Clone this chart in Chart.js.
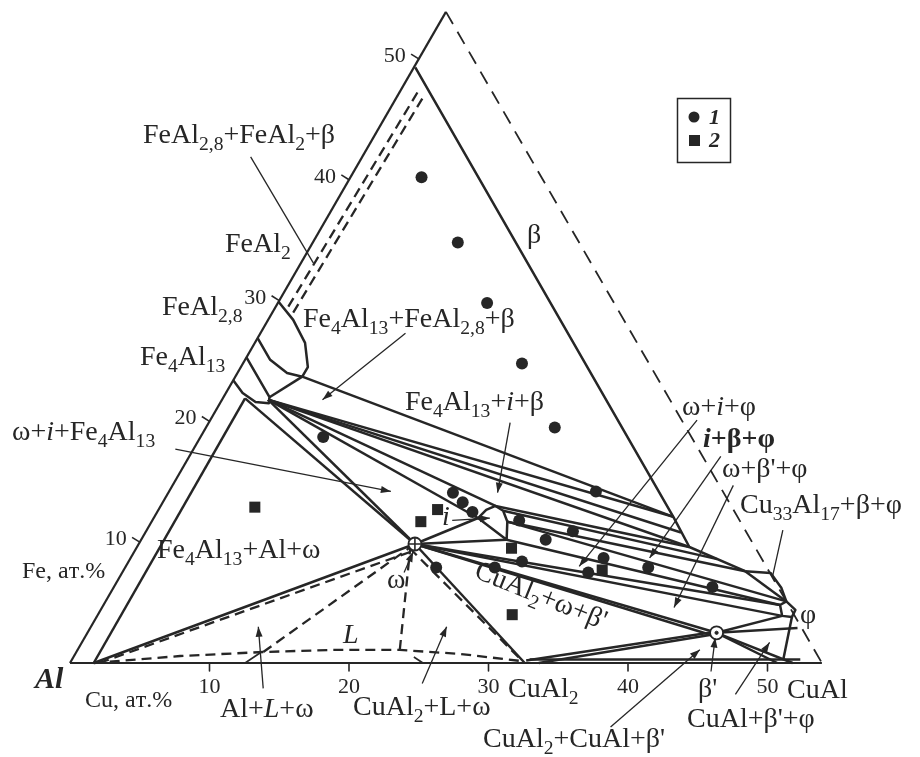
<!DOCTYPE html>
<html>
<head>
<meta charset="utf-8">
<script src="https://cdn.jsdelivr.net/npm/chart.js@4.4.1/dist/chart.umd.min.js"></script>
<style>
  html, body { margin: 0; padding: 0; background: #fff; }
  canvas { display: block; }
</style>
</head>
<body>
<canvas id="diagram" width="920" height="757"></canvas>
<script>
// every point is [Cu, Fe] in at.%, Al is the balance
const SIDE = 53.9;
const edgeTicks = [10, 20, 30, 40, 50];

// alloys studied
const seriesOne = [
  [5.1, 40.2], [10.4, 34.8], [15.0, 29.8], [20.0, 24.8], [25.0, 19.5], [30.6, 14.2],
  [8.8, 18.7], [20.4, 14.1], [21.5, 13.3], [22.6, 12.5], [26.3, 11.8], [30.6, 10.9],
  [29.0, 10.2], [28.2, 8.4], [26.5, 7.9], [22.3, 7.9], [33.9, 8.7], [33.4, 7.5],
  [37.5, 7.9], [42.9, 6.3]
];
const seriesTwo = [
  [6.8, 12.9], [20.0, 12.7], [19.3, 11.7], [26.9, 9.5], [34.3, 7.7], [29.7, 4.0]
];
// omega and beta' single-phase points
const singlePhases = [[19.8, 9.85], [45.1, 2.5]];

const frame = [
  [[0, 0], [SIDE, 0]],
  [[0, 0], [0, SIDE]]
];
const frameDashed = [
  [[0, SIDE], [SIDE, 0]]
];

const boundaries = [
  // beta
  [[0.1, 49.3], [37.2, 12.1], [39.6, 9.6], [44.6, 7.6]],
  // Al solid solution side
  [[1.7, 0], [1.6, 21.9]],
  // Fe4Al13
  [[0, 25.3], [3.3, 22.0], [3.5, 21.5], [2.5, 21.6], [1.2, 22.35], [0, 23.4]],
  // FeAl2.8
  [[0, 26.9], [1.8, 25.1], [3.56, 24.0], [4.8, 23.7]],
  [[0, 29.9], [1.8, 28.4], [3.6, 26.5], [4.8, 24.5], [4.8, 23.7]],
  [[4.8, 23.7], [3.3, 22.0]],
  // Fe4Al13 / FeAl2.8 / beta / i
  [[4.8, 23.7], [37.2, 12.1]],
  [[3.3, 21.8], [37.2, 12.1]],
  [[3.3, 21.8], [38.4, 10.8]],
  [[3.3, 21.8], [39.6, 9.6]],
  [[3.3, 21.8], [24.0, 13.0]],
  [[3.3, 21.8], [23.25, 12.0]],
  // i phase
  [[23.25, 12.0], [23.5, 12.67], [24.0, 13.0], [24.75, 12.6], [25.5, 11.7], [26.2, 10.2], [23.25, 12.0]],
  [[24.0, 13.0], [39.6, 9.6]],
  [[24.75, 12.6], [42.1, 8.6]],
  [[25.5, 11.7], [44.6, 7.6]],
  [[25.5, 11.7], [48.8, 5.1]],
  [[26.2, 10.2], [48.5, 4.8]],
  // omega
  [[19.8, 9.85], [23.25, 12.0]],
  [[19.8, 9.85], [26.2, 10.2]],
  [[19.8, 9.85], [48.5, 4.8]],
  [[19.8, 9.85], [49.1, 3.9]],
  [[19.8, 9.85], [45.1, 2.5]],
  [[19.8, 9.85], [45.0, 2.25]],
  [[19.8, 9.85], [32.6, 0]],
  [[19.8, 9.85], [3.3, 21.8]],
  [[19.8, 9.85], [1.6, 21.9]],
  [[19.8, 9.85], [1.7, 0]],
  // beta', CuAl2, CuAl
  [[32.6, 0.2], [45.1, 2.6]],
  [[33.6, 0], [45.1, 2.4]],
  [[45.1, 2.5], [50.7, 0]],
  [[45.1, 2.5], [51.8, 0]],
  [[45.1, 2.5], [49.1, 3.9]],
  [[45.1, 2.5], [50.7, 2.9]],
  [[49.85, 3.8], [51.0, 0.25]],
  [[32.8, 0.3], [52.2, 0.3]],
  // phi
  [[48.5, 4.8], [48.8, 5.1], [49.8, 4.4], [49.85, 3.8], [49.1, 3.9], [48.5, 4.8]],
  // Cu33Al17
  [[44.6, 7.6], [46.5, 7.45], [47.9, 6.2], [48.8, 5.1]],
  [[44.6, 7.6], [48.8, 5.1]]
];

const dashedBoundaries = [
  // liquid
  [[1.7, 0], [7.6, 0.58], [13.4, 0.91], [18.1, 1.08], [23.1, 1.08], [27.6, 0.75], [32.2, 0.17]],
  [[2.1, 0], [19.8, 9.2]],
  [[13.4, 0.91], [19.8, 9.85]],
  [[23.1, 1.08], [19.6, 9.6]],
  [[19.6, 9.5], [32.3, 0.2]],
  // FeAl2
  [[0.9, 29.5], [1.3, 47.5]],
  [[1.5, 29.0], [1.9, 47.0]]
];

const shortTies = [
  [[12.55, 0], [13.2, 0.83]],
  [[24.4, 0.5], [25.3, 0]]
];

const leaders = [
  { pts: [[-8.0, 41.9], [0.9, 33.1]], head: false },
  { pts: [[10.4, 27.3], [7.2, 21.8]], head: true },
  { pts: [[21.6, 19.9], [23.6, 14.1]], head: true },
  { pts: [[-1.3, 17.7], [15.9, 14.2]], head: true },
  { pts: [[21.5, 11.8], [24.1, 12.0]], head: true },
  { pts: [[34.9, 20.1], [32.5, 8.0]], head: true },
  { pts: [[38.1, 17.1], [37.2, 8.7]], head: true },
  { pts: [[40.2, 14.7], [41.0, 4.6]], head: true },
  { pts: [[45.6, 11.0], [46.8, 7.1]], head: false },
  { pts: [[20.2, 7.5], [20.0, 9.2]], head: true },
  { pts: [[46.3, -0.7], [45.2, 2.1]], head: true },
  { pts: [[49.0, -2.6], [49.3, 1.7]], head: true },
  { pts: [[41.4, -5.3], [44.6, 1.1]], head: true },
  { pts: [[14.9, -2.1], [12.0, 3.0]], head: true },
  { pts: [[26.1, -1.7], [25.5, 3.0]], head: true }
];

// text labels: x, baseline y (px), text, font size
const labels = [
  [143, 143, 'FeAl_{2,8}+FeAl_2+β', 28],
  [225, 252, 'FeAl_2', 28],
  [162, 315, 'FeAl_{2,8}', 28],
  [140, 365, 'Fe_4Al_{13}', 28],
  [303, 327, 'Fe_4Al_{13}+FeAl_{2,8}+β', 28],
  [405, 410, 'Fe_4Al_{13}+*i*+β', 28],
  [12, 440, 'ω+*i*+Fe_4Al_{13}', 28],
  [527, 243, 'β', 28],
  [682, 415, 'ω+*i*+φ', 28],
  [703, 447, '*i*+β+φ', 28, 'bold'],
  [722, 477, 'ω+β\'+φ', 28],
  [740, 513, 'Cu_{33}Al_{17}+β+φ', 28],
  [800, 623, 'φ', 28],
  [157, 558, 'Fe_4Al_{13}+Al+ω', 28],
  [387, 588, 'ω', 28],
  [343, 643, '*L*', 28],
  [442, 525, '*i*', 28],
  [220, 717, 'Al+*L*+ω', 28],
  [353, 715, 'CuAl_2+L+ω', 28],
  [85, 707, 'Cu, ат.%', 24],
  [35, 688, '*Al*', 30, 'bold'],
  [22, 578, 'Fe, ат.%', 24],
  [508, 697, 'CuAl_2', 28],
  [698, 697, 'β\'', 28],
  [787, 698, 'CuAl', 28],
  [687, 727, 'CuAl+β\'+φ', 28],
  [483, 747, 'CuAl_2+CuAl+β\'', 28]
];
const rotatedLabel = [473, 577, 'CuAl_2+ω+β\'', 28, 22];

const INK = '#262626';
const FONT = '"Liberation Serif", "Times New Roman", serif';

function tern(p) {
  return { x: p[0] + p[1] / 2, y: p[1] * Math.sqrt(3) / 2 };
}

function lineSet(pts, width, dash) {
  return {
    data: pts.map(tern),
    showLine: true,
    borderColor: INK,
    borderWidth: width,
    borderDash: dash || [],
    borderJoinStyle: 'round',
    pointRadius: 0,
    pointHoverRadius: 0,
    fill: false,
    tension: 0,
    clip: false,
    order: 2
  };
}

function drawRich(ctx, text, x, y, size, weight) {
  let italic = false, i = 0, cx = x;
  const runs = [];
  while (i < text.length) {
    const c = text[i];
    if (c === '*') { italic = !italic; i++; continue; }
    if (c === '_') {
      let s;
      if (text[i + 1] === '{') {
        const j = text.indexOf('}', i);
        s = text.slice(i + 2, j);
        i = j + 1;
      } else {
        s = text[i + 1];
        i += 2;
      }
      runs.push({ s, sub: true, italic });
      continue;
    }
    runs.push({ s: c, sub: false, italic });
    i++;
  }
  for (const r of runs) {
    const fs = r.sub ? size * 0.7 : size;
    ctx.font = (r.italic ? 'italic ' : '') + (weight ? weight + ' ' : '') + fs + 'px ' + FONT;
    ctx.fillText(r.s, cx, y + (r.sub ? size * 0.24 : 0));
    cx += ctx.measureText(r.s).width;
  }
}

const decorations = {
  id: 'decorations',
  afterDatasetsDraw(chart) {
    const ctx = chart.ctx;
    const xs = chart.scales.x, ys = chart.scales.y;
    const px = p => { const t = tern(p); return [xs.getPixelForValue(t.x), ys.getPixelForValue(t.y)]; };
    ctx.save();
    ctx.fillStyle = INK;

    // arrow heads
    leaders.filter(l => l.head).forEach(l => {
      const a = px(l.pts[l.pts.length - 2]);
      const b = px(l.pts[l.pts.length - 1]);
      const ang = Math.atan2(b[1] - a[1], b[0] - a[0]);
      ctx.beginPath();
      ctx.moveTo(b[0], b[1]);
      ctx.lineTo(b[0] - 10 * Math.cos(ang) + 3.5 * Math.sin(ang), b[1] - 10 * Math.sin(ang) - 3.5 * Math.cos(ang));
      ctx.lineTo(b[0] - 10 * Math.cos(ang) - 3.5 * Math.sin(ang), b[1] - 10 * Math.sin(ang) + 3.5 * Math.cos(ang));
      ctx.closePath();
      ctx.fill();
    });

    // tick labels
    ctx.textBaseline = 'alphabetic';
    ctx.font = '22px ' + FONT;
    edgeTicks.forEach(t => {
      const b = px([t, 0]);
      ctx.textAlign = 'center';
      ctx.fillText(String(t), b[0], b[1] + 30);
      const l = px([0, t]);
      ctx.textAlign = 'right';
      ctx.fillText(String(t), l[0] - 13, l[1] + 3);
    });

    ctx.textAlign = 'left';
    labels.forEach(l => drawRich(ctx, l[2], l[0], l[1], l[3], l[4]));

    ctx.save();
    ctx.translate(rotatedLabel[0], rotatedLabel[1]);
    ctx.rotate(rotatedLabel[4] * Math.PI / 180);
    drawRich(ctx, rotatedLabel[2], 0, 0, rotatedLabel[3]);
    ctx.restore();

    // legend
    ctx.strokeStyle = INK;
    ctx.lineWidth = 1.5;
    ctx.strokeRect(677.5, 98.5, 53, 64);
    ctx.beginPath();
    ctx.arc(694, 117, 5.5, 0, Math.PI * 2);
    ctx.fill();
    ctx.fillRect(689, 135, 11, 11);
    ctx.font = 'italic bold 22px ' + FONT;
    ctx.fillText('1', 709, 124);
    ctx.fillText('2', 709, 147);
    ctx.restore();
  }
};

const datasets = [
  { data: [tern(singlePhases[0])], pointStyle: 'cross', pointRadius: 6, borderColor: INK, borderWidth: 1.6, showLine: false, order: 0 },
  { data: [tern(singlePhases[1])], pointStyle: 'circle', pointRadius: 1.6, backgroundColor: INK, borderColor: INK, showLine: false, order: 0 },
  { data: singlePhases.map(tern), pointStyle: 'circle', pointRadius: 6.5, backgroundColor: '#fff', borderColor: INK, borderWidth: 1.8, showLine: false, order: 1 },
  { data: seriesOne.map(tern), pointStyle: 'circle', pointRadius: 6, backgroundColor: INK, borderColor: INK, borderWidth: 0, showLine: false, order: 1 },
  { data: seriesTwo.map(tern), pointStyle: 'rect', pointRadius: 7.8, backgroundColor: INK, borderColor: INK, borderWidth: 0, showLine: false, order: 1 }
];
frame.forEach(p => datasets.push(lineSet(p, 2.2)));
frameDashed.forEach(p => datasets.push(lineSet(p, 1.8, [14, 9])));
edgeTicks.forEach(t => {
  datasets.push(lineSet([[t, 0], [t + 0.33, -0.66]], 1.6));
  datasets.push(lineSet([[0, t], [-0.75, t + 0.4]], 1.6));
});
boundaries.forEach(p => datasets.push(lineSet(p, 2.5)));
dashedBoundaries.forEach(p => datasets.push(lineSet(p, 2.3, [10, 6])));
shortTies.forEach(p => datasets.push(lineSet(p, 1.6)));
leaders.forEach(l => datasets.push(lineSet(l.pts, 1.3)));

new Chart(document.getElementById('diagram'), {
  type: 'scatter',
  data: { datasets },
  options: {
    responsive: false,
    animation: false,
    devicePixelRatio: 1,
    layout: { padding: 0, autoPadding: false },
    plugins: { legend: { display: false }, tooltip: { enabled: false }, title: { display: false } },
    events: [],
    scales: {
      x: { type: 'linear', display: false, min: -70 / 13.95, max: 850 / 13.95 },
      y: { type: 'linear', display: false, min: -94 / 13.95, max: 663 / 13.95 }
    }
  },
  plugins: [decorations]
});
</script>
</body>
</html>
